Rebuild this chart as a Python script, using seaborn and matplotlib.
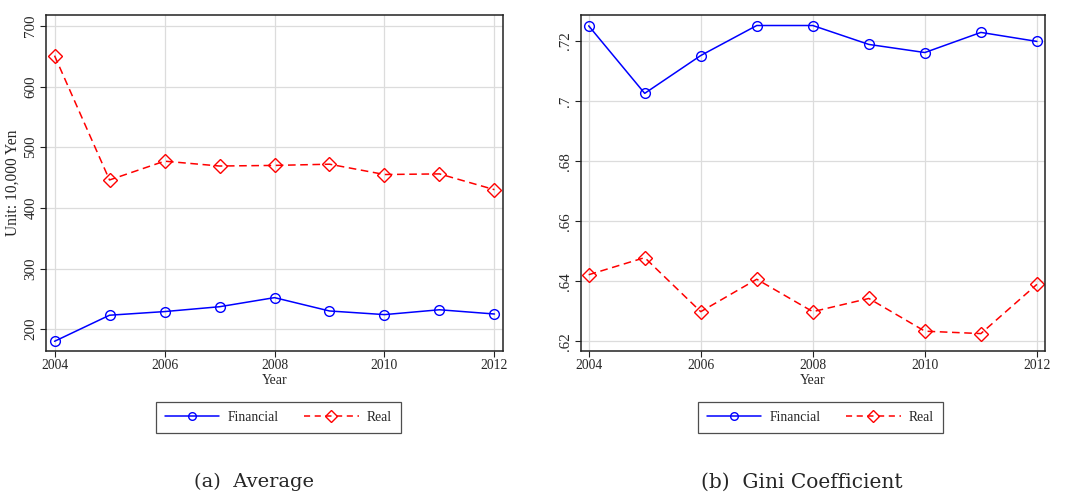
import numpy as np
import pandas as pd
import matplotlib
matplotlib.use("Agg")
import matplotlib.pyplot as plt
from matplotlib.lines import Line2D
import seaborn as sns

years = [2004, 2005, 2006, 2007, 2008, 2009, 2010, 2011, 2012]
avg_financial = [180, 223, 229, 237, 252, 230, 224, 232, 225]
avg_real = [651, 446, 477, 469, 470, 472, 455, 456, 430]
gini_financial = [0.7251, 0.7026, 0.7152, 0.7252, 0.7252, 0.7189, 0.7162, 0.7229, 0.7199]
gini_real = [0.6422, 0.6479, 0.6299, 0.6407, 0.6299, 0.6343, 0.6234, 0.6226, 0.6390]
series_names = ["Financial", "Real"]
avg_yticks = [200, 300, 400, 500, 600, 700]
avg_yticklabels = ["200", "300", "400", "500", "600", "700"]
gini_yticks = [0.62, 0.64, 0.66, 0.68, 0.70, 0.72]
gini_yticklabels = [".62", ".64", ".66", ".68", ".7", ".72"]
xticks = [2004, 2006, 2008, 2010, 2012]
captions = ["(a)  Average", "(b)  Gini Coefficient"]

sns.set_theme(style="white")
plt.rcParams["font.family"] = ["Liberation Serif", "DejaVu Serif"]

fig = plt.figure(figsize=(10.66, 4.95), dpi=100)
ax1 = fig.add_axes([0.0429, 0.2909, 0.4287, 0.6788])
ax2 = fig.add_axes([0.5447, 0.2909, 0.4358, 0.6788])

colors = {"Financial": "#0000ff", "Real": "#ff0000"}
markers = {"Financial": "o", "Real": "D"}
msizes = {"Financial": 7, "Real": 7.5}
dashes = {"Financial": (None, None), "Real": (5, 3)}

def draw(ax, fin, real):
    for name, vals in zip(series_names, [fin, real]):
        df = pd.DataFrame({"Year": years, "Value": vals})
        kw = dict(color=colors[name], marker=markers[name], markersize=msizes[name],
                  markerfacecolor="none", markeredgecolor=colors[name],
                  markeredgewidth=1.0, linewidth=1.1)
        if name == "Real":
            kw["linestyle"] = (0, dashes[name])
        sns.lineplot(data=df, x="Year", y="Value", ax=ax, **kw)

draw(ax1, avg_financial, avg_real)
draw(ax2, gini_financial, gini_real)

ax1.set_xlim(2003.84, 2012.15)
ax1.set_ylim(164, 718)
ax2.set_xlim(2003.857, 2012.148)
ax2.set_ylim(0.6168, 0.7287)

for ax, yt, ytl in [(ax1, avg_yticks, avg_yticklabels), (ax2, gini_yticks, gini_yticklabels)]:
    ax.set_xticks(xticks)
    ax.set_xticklabels([str(x) for x in xticks], fontsize=9.8)
    ax.set_yticks(yt)
    ax.set_yticklabels(ytl, fontsize=10.8, rotation=90, va="center")
    ax.grid(True, color="#dcdcdc", linewidth=0.9)
    ax.set_axisbelow(True)
    ax.tick_params(axis="both", which="both", direction="out", length=4, width=0.8,
                   color="#222222", pad=2, left=True, bottom=True)
    for sp in ax.spines.values():
        sp.set_color("#222222")
        sp.set_linewidth(1.1)
    ax.set_xlabel("Year", fontsize=10, labelpad=1)
    ax.set_ylabel("")

ax1.set_ylabel("Unit: 10,000 Yen", fontsize=11.2, labelpad=3)

handles = [
    Line2D([], [], color=colors["Financial"], marker="o", markersize=5.5,
           markerfacecolor="none", markeredgecolor=colors["Financial"], linewidth=1.1),
    Line2D([], [], color=colors["Real"], marker="D", markersize=6.5,
           markerfacecolor="none", markeredgecolor=colors["Real"], linewidth=1.1,
           linestyle=(0, (4, 3))),
]

for ax, cx, cap in [(ax1, 278.3, captions[0]), (ax2, 820.3, captions[1])]:
    leg = fig.legend(handles, series_names, loc="center", ncol=2,
                     bbox_to_anchor=(cx / 1066, 1 - 417.5 / 495),
                     frameon=True, fancybox=False, fontsize=9.8,
                     handlelength=4.0, columnspacing=1.9, handletextpad=0.6,
                     borderpad=0.65, borderaxespad=0)
    leg.get_frame().set_edgecolor("#222222")
    leg.get_frame().set_linewidth(0.9)

fig.text(254 / 1066, 1 - 482 / 495, captions[0], ha="center", va="center", fontsize=14,
         family=["DejaVu Serif"])
fig.text(802 / 1066, 1 - 482 / 495, captions[1], ha="center", va="center", fontsize=14.5,
         family=["DejaVu Serif"])

fig.savefig("out.png", dpi=100, facecolor="white")
